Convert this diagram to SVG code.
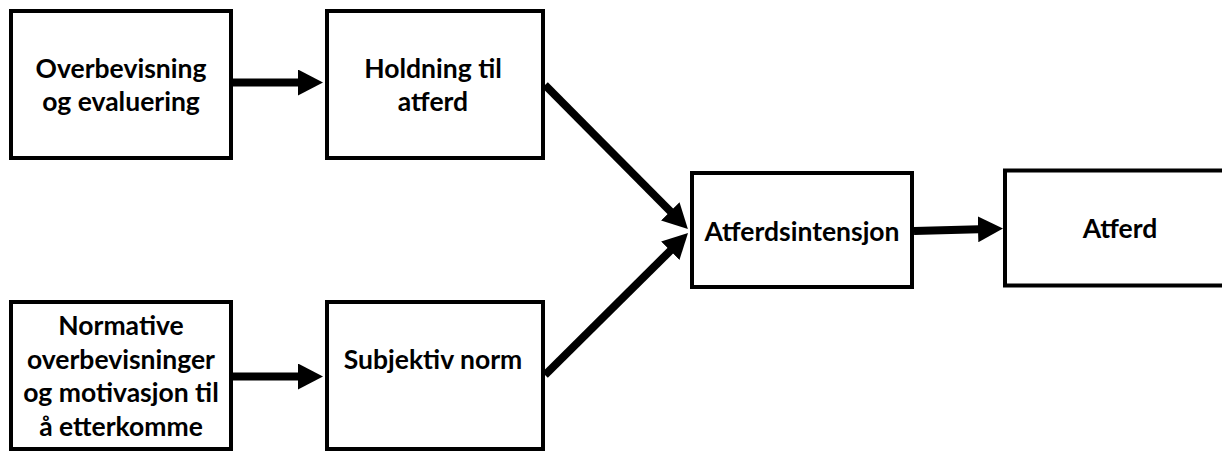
<svg xmlns="http://www.w3.org/2000/svg" width="1222" height="453" viewBox="0 0 1222 453">
<style>
.box{fill:#fff;stroke:#000;stroke-width:4}
.lbl{font-family:Lato,"Open Sans","Liberation Sans",sans-serif;font-weight:bold;font-size:26.5px;fill:#000;text-anchor:middle}
.conn{stroke:#000;stroke-width:8;fill:none;marker-end:url(#ah)}
</style>
<defs>
<marker id="ah" markerUnits="userSpaceOnUse" markerWidth="26" markerHeight="26" refX="1" refY="13" orient="auto" viewBox="0 0 26 26">
<path d="M0,0 L25,13 L0,26 z" fill="#000"/>
</marker>
</defs>
<rect width="1222" height="453" fill="#fff"/>
<g id="connectors">
<line class="conn" x1="233" y1="82.5" x2="299" y2="82.5"/>
<line class="conn" x1="233" y1="376.5" x2="299" y2="376.5"/>
<line class="conn" x1="545" y1="85" x2="671" y2="212"/>
<line class="conn" x1="545" y1="375" x2="671" y2="250"/>
<line class="conn" x1="914" y1="231" x2="979" y2="229.2"/>
</g>
<g id="n1">
<rect class="box" x="11" y="11" width="220" height="147"/>
<text class="lbl" x="121" y="78">Overbevisning</text>
<text class="lbl" x="121" y="111">og evaluering</text>
</g>
<g id="n2">
<rect class="box" x="327" y="11" width="216" height="147"/>
<text class="lbl" x="433" y="78">Holdning til</text>
<text class="lbl" x="433" y="111">atferd</text>
</g>
<g id="n3">
<rect class="box" x="11" y="302" width="220" height="147"/>
<text class="lbl" x="121" y="335">Normative</text>
<text class="lbl" x="121" y="368.5">overbevisninger</text>
<text class="lbl" x="121" y="402">og motivasjon til</text>
<text class="lbl" x="121" y="435.5">å etterkomme</text>
</g>
<g id="n4">
<rect class="box" x="327" y="302" width="216" height="147"/>
<text class="lbl" x="433" y="369">Subjektiv norm</text>
</g>
<g id="n5">
<rect class="box" x="692" y="173" width="220" height="114"/>
<text class="lbl" x="802" y="241">Atferdsintensjon</text>
</g>
<g id="n6">
<rect class="box" x="1005" y="170.5" width="300" height="115"/>
<text class="lbl" x="1120" y="238">Atferd</text>
</g>
</svg>
